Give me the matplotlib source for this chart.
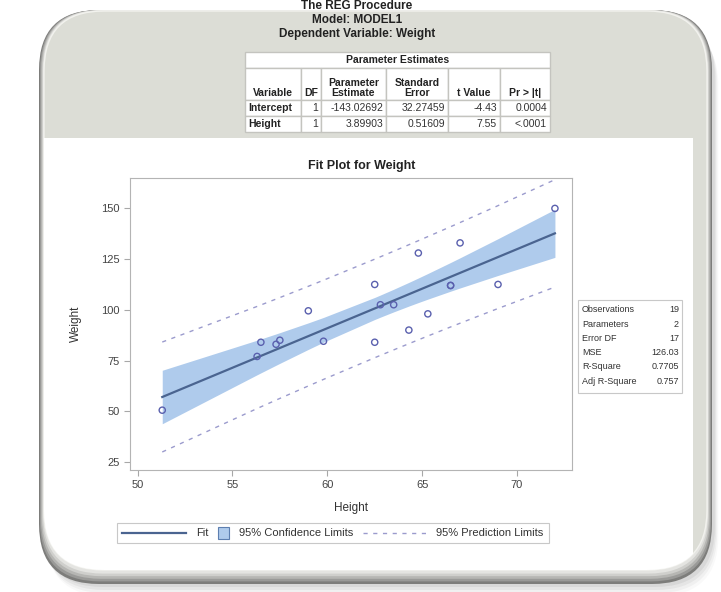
import numpy as np
import matplotlib
matplotlib.use('Agg')
import matplotlib.pyplot as plt
from matplotlib.patches import FancyBboxPatch, Rectangle
from matplotlib.lines import Line2D
from matplotlib.offsetbox import AnchoredOffsetbox, DrawingArea, HPacker, TextArea

# SASHELP.CLASS data shown in the fit plot
height = [69.0, 56.5, 65.3, 62.8, 63.5, 57.3, 59.8, 62.5, 62.5, 59.0,
          51.3, 64.3, 56.3, 66.5, 72.0, 64.8, 67.0, 57.5, 66.5]
weight = [112.5, 84.0, 98.0, 102.5, 102.5, 83.0, 84.5, 112.5, 84.0, 99.5,
          50.5, 90.0, 77.0, 112.0, 150.0, 128.0, 133.0, 85.0, 112.0]

# parameter estimates table
param_vars = ['Intercept', 'Height']
param_df = ['1', '1']
param_est = ['-143.02692', '3.89903']
param_se = ['32.27459', '0.51609']
param_t = ['-4.43', '7.55']
param_p = ['0.0004', '<.0001']

# fit statistics inset
stat_names = ['Observations', 'Parameters', 'Error DF', 'MSE', 'R-Square', 'Adj R-Square']
stat_values = ['19', '2', '17', '126.03', '0.7705', '0.757']

header_lines = ['The REG Procedure', 'Model: MODEL1', 'Dependent Variable: Weight']

plt.rcParams['font.family'] = ['Liberation Sans', 'DejaVu Sans']

W, H = 721, 592
fig = plt.figure(figsize=(W / 100, H / 100), dpi=100)
fig.patch.set_facecolor('white')

# background axes in pixel units (y down)
bg = fig.add_axes([0, 0, 1, 1])
bg.set_xlim(0, W)
bg.set_ylim(H, 0)
bg.axis('off')

box = 'round,pad=0,rounding_size=60'
# soft drop shadow
for i, a in enumerate([0.025, 0.035, 0.045, 0.055]):
    off = 16 - 3 * i
    bg.add_patch(FancyBboxPatch((40 + off * 0.4, 10 + off), 672, 570, boxstyle=box,
                                fc='black', ec='none', alpha=a))
# bevel: graded grey layers, thicker at the bottom
bevel = ['#7d7d7b', '#9a9a98', '#b6b6b3', '#cfcfcc', '#e4e4e1']
for i, c in enumerate(bevel):
    bg.add_patch(FancyBboxPatch((39 + i, 10), 673 - 2 * i, 574 - 2.6 * i, boxstyle=box,
                                fc=c, ec='none'))
card = FancyBboxPatch((44, 11), 663, 559, boxstyle=box, fc='#dcddd6', ec='#f2f2ee', lw=1.0)
bg.add_patch(card)
panel = Rectangle((44, 138), 649, 440, fc='white', ec='none')
bg.add_patch(panel)
panel.set_clip_path(card)

# header
for i, line in enumerate(header_lines):
    bg.text(357, 6 + 14 * i, line, ha='center', va='center', fontsize=8.5,
            fontweight='bold', color='#222222')

# parameter estimates table
cx = [245, 301, 321, 386, 448, 500, 550]
ry = [52, 68, 100, 116, 132]
cell = dict(fc='white', ec='#c4c4bf', lw=1.0)
bg.add_patch(Rectangle((cx[0], ry[0]), cx[-1] - cx[0], ry[1] - ry[0], **cell))
bg.text((cx[0] + cx[-1]) / 2, (ry[0] + ry[1]) / 2, 'Parameter Estimates', ha='center',
        va='center', fontsize=7.5, fontweight='bold', color='#222222')
col_heads = ['Variable', 'DF', 'Parameter\nEstimate', 'Standard\nError', 't Value', 'Pr > |t|']
for j, name in enumerate(col_heads):
    bg.add_patch(Rectangle((cx[j], ry[1]), cx[j + 1] - cx[j], ry[2] - ry[1], **cell))
    bg.text((cx[j] + cx[j + 1]) / 2, ry[2] - 2, name, ha='center', va='bottom',
            fontsize=7.5, fontweight='bold', color='#222222', linespacing=1.0)
rows = list(zip(param_vars, param_df, param_est, param_se, param_t, param_p))
for i, row in enumerate(rows):
    y0, y1 = ry[2 + i], ry[3 + i]
    for j, val in enumerate(row):
        bg.add_patch(Rectangle((cx[j], y0), cx[j + 1] - cx[j], y1 - y0, **cell))
        if j == 0:
            bg.text(cx[j] + 3, (y0 + y1) / 2, val, ha='left', va='center', fontsize=7.5,
                    fontweight='bold', color='#222222')
        else:
            bg.text(cx[j + 1] - 3, (y0 + y1) / 2, val, ha='right', va='center',
                    fontsize=7.5, color='#333333')

# fit statistics inset
bg.add_patch(Rectangle((578, 300), 104, 93, fc='white', ec='#c8c8c8', lw=0.8))
for i, (n, v) in enumerate(zip(stat_names, stat_values)):
    y = 310 + 14.2 * i
    bg.text(582, y, n, ha='left', va='center', fontsize=6.5, color='#333333')
    bg.text(679, y, v, ha='right', va='center', fontsize=6.5, color='#333333')

bg.text(362, 166, 'Fit Plot for Weight', ha='center', va='center', fontsize=9,
        fontweight='bold', color='#222222')

# regression fit with limits
b0 = float(param_est[0])
b1 = float(param_est[1])
mse = float(stat_values[3])
n = len(height)
t_crit = 2.1098
x = np.array(height)
y = np.array(weight)
xs = np.sort(x)
xbar = x.mean()
sxx = ((x - xbar) ** 2).sum()
fit = b0 + b1 * xs
se_m = np.sqrt(mse * (1 / n + (xs - xbar) ** 2 / sxx))
se_p = np.sqrt(mse * (1 + 1 / n + (xs - xbar) ** 2 / sxx))

ax = fig.add_axes([130 / W, 1 - 470 / H, 442 / W, 292 / H])
ax.set_facecolor('white')
band_color = '#afcbec'
fit_color = '#4a6490'
pred_color = '#9b9bcd'
mark_color = '#5a60ae'
ax.fill_between(xs, fit - t_crit * se_m, fit + t_crit * se_m, color=band_color, lw=0, zorder=1)
ax.plot(xs, fit, color=fit_color, lw=1.6, zorder=3)
ax.plot(xs, fit - t_crit * se_p, color=pred_color, lw=1, dashes=(3, 4), zorder=2)
ax.plot(xs, fit + t_crit * se_p, color=pred_color, lw=1, dashes=(3, 4), zorder=2)
ax.scatter(x, y, s=20, facecolors='none', edgecolors=mark_color, linewidths=1, zorder=4)

ax.set_xlim(49.6, 72.9)
ax.set_ylim(21, 165)
ax.set_xticks([50, 55, 60, 65, 70])
ax.set_yticks([25, 50, 75, 100, 125, 150])
for s in ax.spines.values():
    s.set_color('#b4b4b4')
    s.set_linewidth(0.8)
ax.tick_params(direction='out', length=4, color='#a8a8a8', labelsize=8, labelcolor='#444444')
ax.set_xlabel('Height', fontsize=8.5, color='#333333', labelpad=8)
ax.set_ylabel('Weight', fontsize=8.5, color='#333333', labelpad=14)

# legend built from offset boxes so each key can have its own width
txt = dict(fontsize=8, color='#333333')
da_fit = DrawingArea(46, 8, 0, 0)
da_fit.add_artist(Line2D([0, 46], [4, 4], color=fit_color, lw=1.6))
da_clm = DrawingArea(8, 8, 0, 0)
da_clm.add_artist(Rectangle((0, 0), 8, 8, fc=band_color, ec='#5d7fb0', lw=0.8))
da_pred = DrawingArea(46, 8, 0, 0)
da_pred.add_artist(Line2D([0, 46], [4, 4], color=pred_color, lw=1, dashes=(3, 4)))
items = [da_fit, TextArea('Fit', textprops=txt),
         da_clm, TextArea('95% Confidence Limits', textprops=txt),
         da_pred, TextArea('95% Prediction Limits', textprops=txt)]
row = HPacker(children=items, align='center', pad=0, sep=7)
anch = AnchoredOffsetbox(loc='center', child=row, pad=0.35, frameon=True,
                         bbox_to_anchor=(333 / W, 1 - 533 / H),
                         bbox_transform=fig.transFigure, borderpad=0)
anch.patch.set_edgecolor('#c8c8c8')
anch.patch.set_linewidth(0.8)
anch.patch.set_boxstyle('square,pad=0')
fig.add_artist(anch)

fig.savefig('out.png', dpi=100)
